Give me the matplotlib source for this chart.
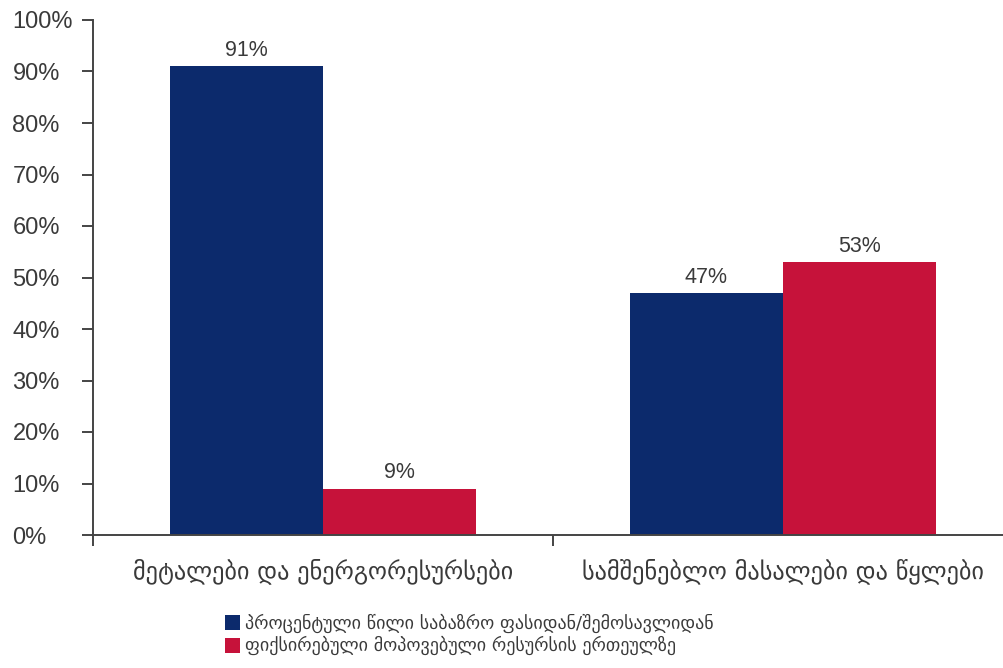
import numpy as np
import matplotlib.pyplot as plt
from matplotlib.ticker import FuncFormatter

# მონაცემები
categories = ['მეტალები და ენერგორესურსები', 'სამშენებლო მასალები და წყლები']
series_names = ['პროცენტული წილი საბაზრო ფასიდან/შემოსავლიდან',
                'ფიქსირებული მოპოვებული რესურსის ერთეულზე']
share_market = [91, 47]
fixed_unit = [9, 53]

blue = '#0c2a6c'
red = '#c6123a'
txt = '#3a3a3a'

plt.rcParams['font.family'] = ['Liberation Sans', 'DejaVu Sans']

fig = plt.figure(figsize=(10.04, 6.68), dpi=100)
ax = fig.add_axes([93 / 1004, 1 - 535 / 668, 920 / 1004, 515 / 668])

x = np.arange(len(categories))
w = 0.333
b1 = ax.bar(x - w / 2, share_market, w, color=blue, label=series_names[0])
b2 = ax.bar(x + w / 2, fixed_unit, w, color=red, label=series_names[1])

for bars, vals in [(b1, share_market), (b2, fixed_unit)]:
    for b, v in zip(bars, vals):
        ax.text(b.get_x() + b.get_width() / 2, v + 1.0, f'{v}%',
                ha='center', va='bottom', fontsize=15.5, color=txt)

ax.set_xlim(-0.5, 1.5)
ax.set_ylim(0, 100)
ax.set_yticks(np.arange(0, 101, 10))
ax.yaxis.set_major_formatter(FuncFormatter(lambda v, p: f'{v:.0f}%'))
ax.tick_params(axis='y', length=8, width=1.4, color='#444444', labelsize=17,
               labelcolor=txt, pad=50)
for lab in ax.get_yticklabels():
    lab.set_horizontalalignment('left')

# x ტიკები კატეგორიების საზღვრებზე
ax.set_xticks([-0.5, 0.5, 1.5])
ax.set_xticklabels([])
ax.set_xticks(x, minor=True)
ax.set_xticklabels(categories, minor=True, family=['DejaVu Sans'])
ax.tick_params(axis='x', which='major', length=8, width=1.4, color='#444444')
ax.tick_params(axis='x', which='minor', length=0, labelsize=17.5,
               labelcolor=txt, pad=17)

for s in ['top', 'right']:
    ax.spines[s].set_visible(False)
for s in ['left', 'bottom']:
    ax.spines[s].set_color('#444444')
    ax.spines[s].set_linewidth(1.4)

leg = fig.legend(loc='upper left', bbox_to_anchor=(218 / 1004, 1 - 606 / 668),
                 frameon=False, prop={'family': 'DejaVu Sans', 'size': 13},
                 handlelength=0.8, handleheight=0.9,
                 handletextpad=0.3, labelspacing=0.2, borderaxespad=0)
for t in leg.get_texts():
    t.set_color(txt)

fig.savefig('out.png', dpi=100)
